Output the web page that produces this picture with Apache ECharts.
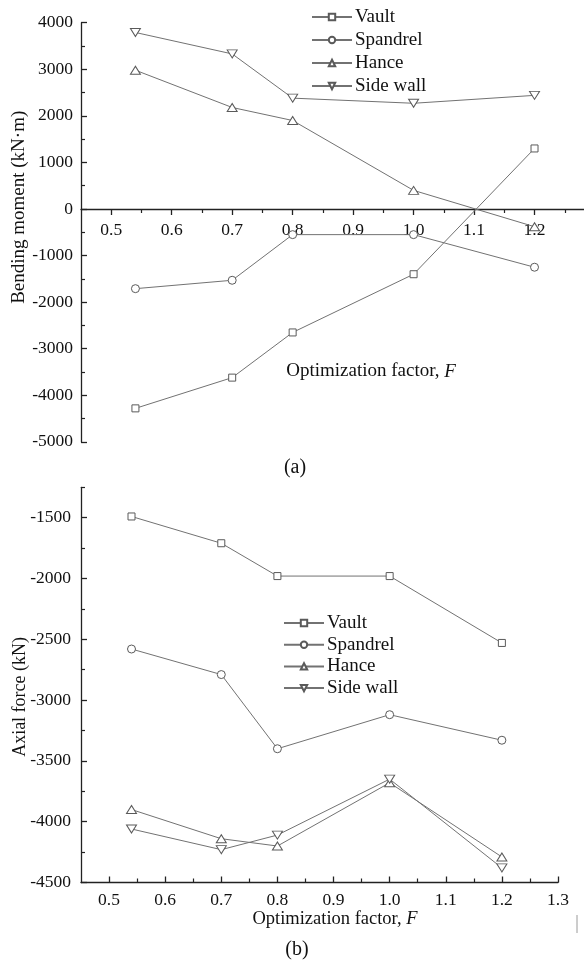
<!DOCTYPE html>
<html>
<head>
<meta charset="utf-8">
<script src="https://cdn.jsdelivr.net/npm/echarts@6/dist/echarts.min.js"></script>
<style>
  html, body { margin: 0; padding: 0; background: #ffffff; }
  #chart { width: 584px; height: 960px; }
</style>
</head>
<body>
<div id="chart"></div>
<script>
// Structural members plotted in both panels
const seriesNames = ['Vault', 'Spandrel', 'Hance', 'Side wall'];

// Optimization factor F at which internal forces were evaluated
const factorF = [0.54, 0.7, 0.8, 1.0, 1.2];

// (a) Bending moment, kN·m
const momentVault    = [-4280, -3620, -2650, -1400, 1300];
const momentSpandrel = [-1710, -1530, -550, -550, -1250];
const momentHance    = [2980, 2180, 1900, 400, -380];
const momentSideWall = [3790, 3330, 2380, 2270, 2440];

// (b) Axial force, kN
const axialVault    = [-1490, -1710, -1980, -1980, -2530];
const axialSpandrel = [-2580, -2790, -3400, -3120, -3330];
const axialHance    = [-3900, -4140, -4200, -3680, -4290];
const axialSideWall = [-4060, -4230, -4110, -3650, -4380];

// Tick positions
const fMajorTicks = [0.5, 0.6, 0.7, 0.8, 0.9, 1.0, 1.1, 1.2, 1.3];
const fMinorTicks = [0.55, 0.65, 0.75, 0.85, 0.95, 1.05, 1.15, 1.25];
const momentMajorTicks = [-5000, -4000, -3000, -2000, -1000, 0, 1000, 2000, 3000, 4000];
const momentMinorTicks = [-4500, -3500, -2500, -1500, -500, 500, 1500, 2500, 3500];
const axialMajorTicks = [-4500, -4000, -3500, -3000, -2500, -2000, -1500];
const axialMinorTicks = [-4250, -3750, -3250, -2750, -2250, -1750, -1250];

const SERIF = '"Liberation Serif", "Times New Roman", serif';
const INK = '#111111';
const AXIS = '#222222';
const LINE = '#727272';

// Panel (a): the F axis runs along the zero line of the moment axis,
// which sits this far above the bottom of the plot area.
const MOMENT_ZERO_LIFT = -232.9;

const markers = [
  { symbol: 'rect', size: [7, 7], rotate: 0 },
  { symbol: 'circle', size: [8, 8], rotate: 0 },
  { symbol: 'triangle', size: [10, 8], rotate: 0 },
  { symbol: 'triangle', size: [10, 8], rotate: 180 }
];

function pairs(xs, ys) {
  return xs.map((x, i) => [x, ys[i]]);
}

function lineSeries(k, axisIndex, values) {
  const m = markers[k];
  return {
    type: 'line',
    name: seriesNames[k],
    xAxisIndex: axisIndex,
    yAxisIndex: axisIndex,
    data: pairs(factorF, values),
    symbol: m.symbol,
    symbolSize: m.size,
    symbolRotate: m.rotate,
    showAllSymbol: true,
    lineStyle: { color: LINE, width: 1 },
    itemStyle: { color: '#ffffff', borderColor: '#5a5a5a', borderWidth: 1 },
    emphasis: { disabled: true },
    animation: false
  };
}

function majorX(grid, offset, inside, margin, name, nameGap, namePad, fontSize) {
  return {
    type: 'value', gridIndex: grid, min: 0.45, max: 1.3, position: 'bottom', offset: offset,
    axisLine: { show: true, onZero: false, lineStyle: { color: AXIS, width: 1.3 } },
    axisTick: { show: true, customValues: fMajorTicks, inside: inside, length: 6,
                lineStyle: { color: AXIS, width: 1.3 } },
    axisLabel: { customValues: fMajorTicks, formatter: v => v.toFixed(1), margin: margin,
                 fontFamily: SERIF, fontSize: 17.5, color: INK },
    splitLine: { show: false },
    name: name, nameLocation: 'middle', nameGap: nameGap, nameMoveOverlap: false,
    nameTextStyle: { fontFamily: SERIF, fontSize: fontSize, color: INK, padding: namePad,
                     rich: { i: { fontFamily: SERIF, fontSize: fontSize, fontStyle: 'italic', color: INK } } }
  };
}

function minorX(grid, offset, inside) {
  return {
    type: 'value', gridIndex: grid, min: 0.45, max: 1.3, position: 'bottom', offset: offset,
    axisLine: { show: false, onZero: false },
    axisTick: { show: true, customValues: fMinorTicks, inside: inside, length: 4,
                lineStyle: { color: AXIS, width: 1.2 } },
    axisLabel: { show: false },
    splitLine: { show: false }
  };
}

function majorY(grid, min, max, ticks, margin, name, nameGap, namePad, fontSize) {
  return {
    type: 'value', gridIndex: grid, min: min, max: max, position: 'left',
    axisLine: { show: true, onZero: false, lineStyle: { color: AXIS, width: 1.3 } },
    axisTick: { show: true, customValues: ticks, inside: true, length: 6,
                lineStyle: { color: AXIS, width: 1.3 } },
    axisLabel: { customValues: ticks, formatter: v => String(v), margin: margin,
                 fontFamily: SERIF, fontSize: 17.5, color: INK },
    splitLine: { show: false },
    name: name, nameLocation: 'middle', nameGap: nameGap, nameMoveOverlap: false,
    nameTextStyle: { fontFamily: SERIF, fontSize: fontSize, color: INK, padding: namePad }
  };
}

function minorY(grid, min, max, ticks) {
  return {
    type: 'value', gridIndex: grid, min: min, max: max, position: 'left',
    axisLine: { show: false, onZero: false },
    axisTick: { show: true, customValues: ticks, inside: true, length: 4,
                lineStyle: { color: AXIS, width: 1.2 } },
    axisLabel: { show: false },
    splitLine: { show: false }
  };
}

function legendAt(left, top, gap) {
  return {
    orient: 'vertical', left: left, top: top, itemGap: gap, padding: 0,
    itemWidth: 40, itemHeight: 8,
    data: seriesNames,
    selectedMode: false,
    textStyle: { fontFamily: SERIF, fontSize: 19, color: INK, padding: [0, 0, 0, -2] }
  };
}

const chart = echarts.init(document.getElementById('chart'), null, { renderer: 'canvas' });

chart.setOption({
  animation: false,
  backgroundColor: '#ffffff',
  grid: [
    { left: 81, top: 22.7, width: 514, height: 419.2, outerBoundsMode: 'none' },
    { left: 81, top: 487.3, width: 477, height: 395.2, outerBoundsMode: 'none' }
  ],
  xAxis: [
    majorX(0, MOMENT_ZERO_LIFT, false, 12, 'Optimization factor, {i|F}', 153, [0, 0, 0, 66], 19),
    minorX(0, MOMENT_ZERO_LIFT, false),
    majorX(1, 0, true, 9, 'Optimization factor, {i|F}', 27, [0, 0, 0, 31], 18.5),
    minorX(1, 0, true)
  ],
  yAxis: [
    majorY(0, -5000, 4000, momentMajorTicks, 8, 'Bending moment (kN\u00B7m)', 52, [0, 0, 0, 50], 19),
    minorY(0, -5000, 4000, momentMinorTicks),
    majorY(1, -4500, -1250, axialMajorTicks, 10, 'Axial force (kN)', 52, [0, 24, 0, 0], 18),
    minorY(1, -4500, -1250, axialMinorTicks)
  ],
  legend: [
    legendAt(311, 7.5, 4),
    legendAt(283, 613.5, 2.7)
  ],
  series: [
    lineSeries(0, 0, momentVault),
    lineSeries(1, 0, momentSpandrel),
    lineSeries(2, 0, momentHance),
    lineSeries(3, 0, momentSideWall),
    lineSeries(0, 2, axialVault),
    lineSeries(1, 2, axialSpandrel),
    lineSeries(2, 2, axialHance),
    lineSeries(3, 2, axialSideWall)
  ],
  graphic: [
    { type: 'text', x: 295, y: 468, style: { text: '(a)', font: '20px ' + SERIF, fill: INK,
      textAlign: 'center', textVerticalAlign: 'middle' } },
    { type: 'text', x: 297, y: 950, style: { text: '(b)', font: '20px ' + SERIF, fill: INK,
      textAlign: 'center', textVerticalAlign: 'middle' } },
    { type: 'line', shape: { x1: 577, y1: 915, x2: 577, y2: 933 },
      style: { stroke: '#9a9a9a', lineWidth: 1 } }
  ]
});
</script>
</body>
</html>
